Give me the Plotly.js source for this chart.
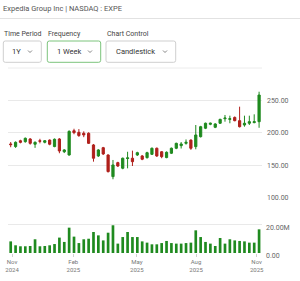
<!DOCTYPE html>
<html>
<head>
<meta charset="utf-8">
<script src="https://cdn.plot.ly/plotly-3.0.1.min.js"></script>
<style>html,body{margin:0;padding:0;background:#fff;}#chart{width:300px;height:281px;}</style>
</head>
<body>
<div id="chart"></div>
<script>
// Weekly EXPE candles
var opens  = [183,179,188,186.6,190.7,182.6,188,185.6,189,179,190.7,171,166,203.5,201,199.5,199.5,181.5,164.5,177.3,166,132.6,154.2,145.5,160.5,161,166,164.5,161.9,167,176.4,171,162,168.7,176.4,180.4,184,189,178.9,194.3,207.3,213.4,208.8,215,222,221,224,219,212.3,215,216,217.4];
var highs  = [186,187,189.5,193,192,187,191,189,190,191.5,192,175,204,206.5,206,202.5,201,183,175,178.5,167,158.3,155.5,162,171,172.7,171,166,171,177.5,177.5,172,171.5,177.5,185,186,190,190,212.3,211,216,216,215,222,227.8,226.7,225.5,240.6,226.7,226.7,228.8,263.7];
var lows   = [178,177,184,185,182,177,184,184,181,178,168.7,169,165,198,194,193.5,183,155.7,163,166,139,128.5,147.5,144,145.4,149,164.5,158,160.5,166,163,161,161,167.5,175,176,182,174,174.8,193,206,212,207.5,214,217.4,215,218,208.5,209.7,212.3,215,208];
var closes = [182,185.6,185.6,191.8,184,185.6,187.2,188,182.6,190.3,172.2,173.8,202.5,200.5,196,197,184,161,173.8,167.6,140.3,150.6,149,161,161.5,155.7,169.6,159.4,169.6,176.4,164.5,163.4,170.2,176.4,184,183,185.6,176.4,196.9,209.7,215,215,213.9,221,223,222,219,209.7,215,217.4,217.4,258.6];
var volumes = [8.3,5.5,4.8,4.8,5.0,9.8,4.8,5.0,5.5,6.4,11,7.9,18.1,11.7,7.1,9.8,10.2,15,12.6,9.0,14.5,19.8,6.7,11.4,15,11.4,11.4,8.3,7.4,6.2,6.2,7.1,8.6,7.1,6.7,6.7,7.1,7.4,16.2,11.4,7.9,6.7,5.0,10.7,6.7,9.8,9.0,8.6,8.3,7.4,7.4,16.9]; // millions
var priceTicks = [100,150,200,250];
var priceTickText = ['100.00','150.00','200.00','250.00'];
var volTicks = [0,20];
var volTickText = ['0.00','20.00M'];
var xTickPos = [0.27,12.85,25.9,38.05,50.5];
var xTickText = ['Nov<br>2024','Feb<br>2025','May<br>2025','Aug<br>2025','Nov<br>2025'];
var titleText = 'Expedia Group Inc | NASDAQ : EXPE';
var controlLabels = ['Time Period','Frequency','Chart Control'];
var controlValues = ['1Y','1 Week','Candlestick'];

var idx = opens.map(function(_, i){ return i; });
var GREEN = '#1f8a1f', RED = '#b0201c';

var traces = [
  {type:'candlestick', x:idx, open:opens, high:highs, low:lows, close:closes,
   xaxis:'x', yaxis:'y', whiskerwidth:0,
   increasing:{line:{color:GREEN,width:1}, fillcolor:GREEN},
   decreasing:{line:{color:RED,width:1}, fillcolor:RED},
   hoverinfo:'skip', showlegend:false},
  {type:'bar', x:idx, y:volumes, xaxis:'x', yaxis:'y2',
   marker:{color:GREEN}, width:0.55, hoverinfo:'skip', showlegend:false}
];

// helpers: pixel -> paper
var L=8, R=262, T=70, B=253;
function px(x){ return (x-L)/(R-L); }
function py(y){ return (B-y)/(B-T); }
function rrect(x0,y0,x1,y1,r){
  var rx=r/(R-L), ry=r/(B-T);
  var a=px(x0), b=px(x1), c=py(y0), d=py(y1); // c top, d bottom (c>d)
  return 'M'+(a+rx)+','+c+' L'+(b-rx)+','+c+' Q'+b+','+c+' '+b+','+(c-ry)+
         ' L'+b+','+(d+ry)+' Q'+b+','+d+' '+(b-rx)+','+d+
         ' L'+(a+rx)+','+d+' Q'+a+','+d+' '+a+','+(d+ry)+
         ' L'+a+','+(c-ry)+' Q'+a+','+c+' '+(a+rx)+','+c+' Z';
}
function chev(cx,cy){
  return 'M'+px(cx-2)+','+py(cy-1)+' L'+px(cx)+','+py(cy+1)+' L'+px(cx+2)+','+py(cy-1);
}

var boxes = [[3.3,41,41.3,62.3,'#cfcfcf'],[47.3,41,100.7,62.3,'#7cc47c'],[106,41,175.7,62.3,'#cfcfcf']];
var labelX = [3,47,106];
var valueX = [11,56,115];
var chevX = [30,90,165];

var shapes = [
  {type:'line', xref:'paper', yref:'paper', x0:px(0), x1:px(300), y0:py(18.5), y1:py(18.5), line:{color:'#e2e2e2', width:1}},
  {type:'line', xref:'paper', yref:'paper', x0:px(8), x1:px(262), y0:py(68), y1:py(68), line:{color:'#ececec', width:1}}
];
var annotations = [
  {xref:'paper', yref:'paper', x:px(1), y:py(8.5), xanchor:'left', yanchor:'middle', showarrow:false,
   text:titleText, font:{family:'Roboto', size:7.5, color:'#555'}}
];
for (var k=0;k<3;k++){
  var bx=boxes[k];
  shapes.push({type:'path', xref:'paper', yref:'paper', path:rrect(bx[0],bx[1],bx[2],bx[3],2), line:{color:bx[4], width:1}, fillcolor:'rgba(0,0,0,0)'});
  shapes.push({type:'path', xref:'paper', yref:'paper', path:chev(chevX[k],51.5), line:{color:'#666', width:0.8}});
  annotations.push({xref:'paper', yref:'paper', x:px(labelX[k]-1), y:py(34.3), xanchor:'left', yanchor:'middle', showarrow:false,
    text:controlLabels[k], font:{family:'Roboto', size:7, color:'#444'}});
  annotations.push({xref:'paper', yref:'paper', x:px(valueX[k]-1), y:py(51.7), xanchor:'left', yanchor:'middle', showarrow:false,
    text:controlValues[k], font:{family:'Roboto', size:7.5, color:'#333'}});
}

var layout = {
  width:300, height:281,
  margin:{l:L, r:300-R, t:T, b:281-B, pad:0},
  paper_bgcolor:'#fff', plot_bgcolor:'#fff',
  showlegend:false, hovermode:false, dragmode:false,
  boxgap:0.35,
  xaxis:{anchor:'y2', range:[-0.554,51.6], rangeslider:{visible:false},
    tickmode:'array', tickvals:xTickPos, ticktext:xTickText,
    showgrid:false, zeroline:false, showline:false,
    ticks:'outside', ticklen:3, tickcolor:'#d0d0d0',
    tickfont:{family:'Roboto', size:6, color:'#777'}},
  yaxis:{domain:[0.302,0.939], range:[100,280], side:'right',
    tickmode:'array', tickvals:priceTicks, ticktext:priceTickText,
    showgrid:true, gridcolor:'#e9e9e9', gridwidth:1, zeroline:false, showline:false,
    ticks:'', ticklabelstandoff:4, ticklabelshift:3.5,
    tickfont:{family:'Roboto', size:7, color:'#666'}},
  yaxis2:{domain:[0,0.29], range:[0,37.9], side:'right',
    tickmode:'array', tickvals:volTicks, ticktext:volTickText,
    showgrid:true, gridcolor:'#e9e9e9', gridwidth:1, zeroline:false, showline:false,
    ticks:'', ticklabelstandoff:3, ticklabelshift:3,
    tickfont:{family:'Roboto', size:7, color:'#666'}},
  shapes:shapes,
  annotations:annotations
};

Plotly.newPlot('chart', traces, layout, {staticPlot:true, displayModeBar:false});
</script>
</body>
</html>
